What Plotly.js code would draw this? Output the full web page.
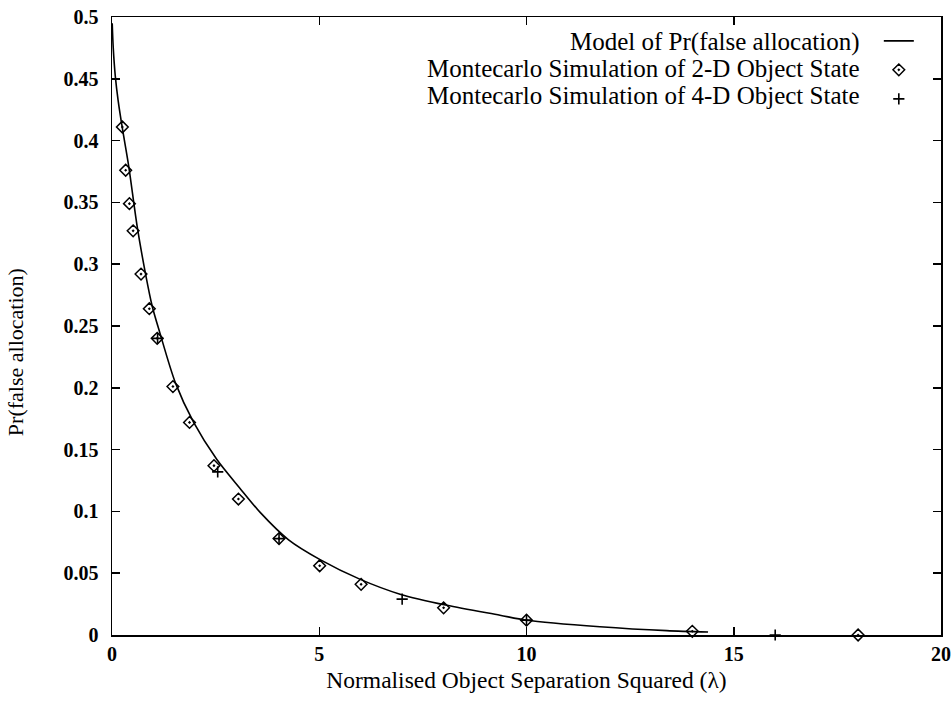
<!DOCTYPE html>
<html>
<head>
<meta charset="utf-8">
<script src="https://cdn.plot.ly/plotly-3.0.1.min.js"></script>
<style>
  html, body { margin: 0; padding: 0; background: #fff; }
  #chart { width: 952px; height: 701px; }
</style>
</head>
<body>
<div id="chart"></div>
<script>
// Model curve
const modelX = [0.005, 0.03, 0.08, 0.15, 0.25, 0.4, 0.61, 0.81, 0.97, 1.15, 1.53, 1.97, 2.53, 3.08, 3.58, 4.26, 5.02, 5.99, 6.95, 8.08, 9.36, 10.0, 11.77, 13.38, 14.38];
const modelY = [0.495, 0.475, 0.452, 0.432, 0.41, 0.38, 0.33, 0.292, 0.266, 0.245, 0.204, 0.172, 0.142, 0.119, 0.099, 0.077, 0.061, 0.045, 0.033, 0.024, 0.016, 0.012, 0.0067, 0.0035, 0.0024];

// Montecarlo 2-D object state
const sim2dX = [0.25, 0.33, 0.42, 0.51, 0.70, 0.90, 1.09, 1.47, 1.87, 2.46, 3.05, 4.03, 5.01, 6.01, 8.0, 10.0, 14.0, 18.0];
const sim2dY = [0.411, 0.376, 0.349, 0.327, 0.292, 0.264, 0.240, 0.201, 0.172, 0.137, 0.110, 0.078, 0.056, 0.041, 0.022, 0.012, 0.003, 0.0];

// Montecarlo 4-D object state
const sim4dX = [1.1, 2.55, 4.03, 7.0, 10.0, 16.0];
const sim4dY = [0.240, 0.132, 0.078, 0.029, 0.012, 0.0];

const seriesNames = [
  "Model of Pr(false allocation)",
  "Montecarlo Simulation of 2-D Object State",
  "Montecarlo Simulation of 4-D Object State"
];

const xTitle = "Normalised Object Separation Squared (λ)";
const yTitle = "Pr(false allocation)";

const xTicks = [0, 5, 10, 15, 20];
const yTicks = [0, 0.05, 0.1, 0.15, 0.2, 0.25, 0.3, 0.35, 0.4, 0.45, 0.5];

const serif = "Liberation Serif, Times New Roman, serif";

const traces = [
  { x: modelX, y: modelY, mode: "lines", name: "", line: { color: "#000", width: 1.6, shape: "spline", smoothing: 0.8 }, hoverinfo: "skip" },
  { x: sim2dX, y: sim2dY, mode: "markers", name: "", cliponaxis: false,
    marker: { symbol: "diamond-open-dot", size: 9, color: "#000", line: { width: 1.5, color: "#000" } } },
  { x: sim4dX, y: sim4dY, mode: "markers", name: "", cliponaxis: false,
    marker: { symbol: "cross-thin", size: 8, color: "#000", line: { width: 1.6, color: "#000" } } }
];

const legendRowsY = [0.9595, 0.9159, 0.8722];
const annotations = seriesNames.map((t, i) => ({
  text: t, xref: "paper", yref: "paper", x: 0.905, y: legendRowsY[i],
  xanchor: "right", yanchor: "middle", showarrow: false,
  font: { family: serif, size: 25, color: "#000" }
}));
annotations.push({
  text: yTitle, xref: "paper", yref: "paper", x: -0.1163, y: 0.457,
  xanchor: "center", yanchor: "middle", textangle: -90, showarrow: false,
  font: { family: serif, size: 22, color: "#000" }
});

const axisCommon = {
  showline: true, linecolor: "#000", linewidth: 1.5, mirror: "allticks",
  ticks: "inside", ticklen: 8, tickwidth: 1.5, tickcolor: "#000",
  showgrid: false, zeroline: false,
  tickfont: { family: serif, size: 20, color: "#000", weight: "bold" }
};

const layout = {
  width: 952, height: 701,
  margin: { l: 111.5, r: 11, t: 17, b: 66 },
  paper_bgcolor: "#fff", plot_bgcolor: "#fff",
  showlegend: true,
  legend: { x: 0.925, xanchor: "left", y: 0.993, yanchor: "top", bgcolor: "rgba(0,0,0,0)",
            font: { family: serif, size: 20 }, itemwidth: 30 },
  xaxis: Object.assign({}, axisCommon, {
    range: [0, 20], tickvals: xTicks, ticktext: xTicks.map(String), ticklabelstandoff: 0,
    title: { text: xTitle, font: { family: serif, size: 23.5, color: "#000" }, standoff: 8 }
  }),
  yaxis: Object.assign({}, axisCommon, {
    range: [0, 0.5], tickvals: yTicks, ticktext: yTicks.map(String), ticklabelstandoff: 8
  }),
  annotations: annotations
};

Plotly.newPlot("chart", traces, layout, { displayModeBar: false, staticPlot: true });
</script>
</body>
</html>
